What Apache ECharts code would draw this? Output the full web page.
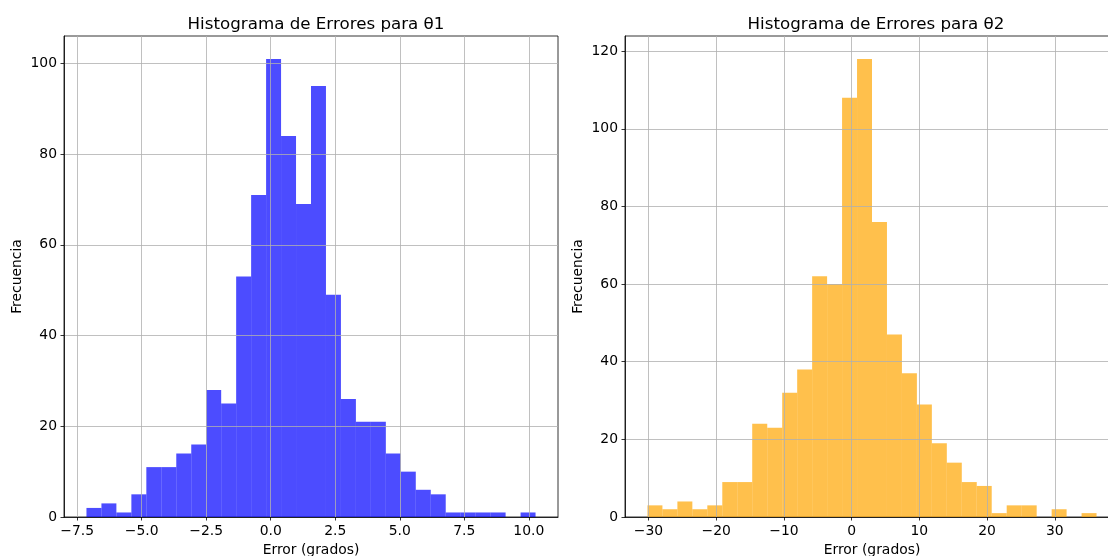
<!DOCTYPE html>
<html>
<head>
<meta charset="utf-8">
<script src="https://cdn.jsdelivr.net/npm/echarts@6/dist/echarts.min.js"></script>
<style>
  html, body { margin: 0; padding: 0; background: #fff; }
  #chart { width: 1108px; height: 556px; }
</style>
</head>
<body>
<div id="chart"></div>
<script>
// Error histograms for the two joint angles (30 equal-width bins each)
const theta1Edges = [-7.14, -6.56, -5.98, -5.40, -4.82, -4.24, -3.66, -3.08, -2.50, -1.92,
  -1.34, -0.76, -0.18, 0.40, 0.98, 1.56, 2.14, 2.72, 3.30, 3.88,
  4.46, 5.04, 5.62, 6.20, 6.78, 7.36, 7.94, 8.52, 9.10, 9.68, 10.26];
const theta1Counts = [2, 3, 1, 5, 11, 11, 14, 16, 28, 25,
  53, 71, 101, 84, 69, 95, 49, 26, 21, 21,
  14, 10, 6, 5, 1, 1, 1, 1, 0, 1];

const theta2Edges = [-30.15, -27.94, -25.73, -23.52, -21.31, -19.10, -16.89, -14.68, -12.46, -10.25,
  -8.04, -5.83, -3.62, -1.41, 0.80, 3.01, 5.22, 7.43, 9.64, 11.85,
  14.06, 16.27, 18.48, 20.69, 22.90, 25.12, 27.33, 29.54, 31.75, 33.96, 36.17];
const theta2Counts = [3, 2, 4, 2, 3, 9, 9, 24, 23, 32,
  38, 62, 60, 108, 118, 76, 47, 37, 29, 19,
  14, 9, 8, 1, 3, 3, 0, 2, 0, 1];

const theta1XTicks = [-7.5, -5.0, -2.5, 0.0, 2.5, 5.0, 7.5, 10.0];
const theta2XTicks = [-30, -20, -10, 0, 10, 20, 30];
const theta1YTicks = [0, 20, 40, 60, 80, 100];
const theta2YTicks = [0, 20, 40, 60, 80, 100, 120];

const titles = ['Histograma de Errores para θ1', 'Histograma de Errores para θ2'];
const xName = 'Error (grados)';
const yName = 'Frecuencia';

const FONT = 'DejaVu Sans';
const minus = s => String(s).replace('-', '\u2212');

// matplotlib-style autoscale: 5% margin around the data extent
function padded(lo, hi) {
  const m = (hi - lo) * 0.05;
  return [lo - m, hi + m];
}

function binData(edges, counts) {
  return counts.map((c, i) => [edges[i], edges[i + 1], c]);
}

function renderBin(color) {
  return function (params, api) {
    const top = api.coord([api.value(0), api.value(2)]);
    const bottom = api.coord([api.value(1), 0]);
    return {
      type: 'rect',
      shape: { x: top[0], y: top[1], width: bottom[0] - top[0], height: bottom[1] - top[1] },
      style: { fill: color }
    };
  };
}

const gridLine = { show: true, lineStyle: { color: '#b0b0b0', width: 0.8 } };
const tickStyle = { show: true, inside: false, length: 3.5, lineStyle: { color: '#000', width: 0.8 } };
const labelFont = { fontFamily: FONT, fontSize: 13.9, color: '#000' };

function xAxisFor(gridIndex, ext, ticks, fmt) {
  return {
    type: 'value', gridIndex, min: ext[0], max: ext[1], z: 5,
    name: xName, nameLocation: 'middle', nameGap: 25,
    nameTextStyle: labelFont,
    axisLine: { show: true, onZero: false, lineStyle: { color: '#000', width: 0.8 } },
    axisTick: Object.assign({ customValues: ticks }, tickStyle),
    axisLabel: Object.assign({ customValues: ticks, margin: 7, formatter: fmt }, labelFont),
    splitLine: gridLine
  };
}

function yAxisFor(gridIndex, max, ticks) {
  return {
    type: 'value', gridIndex, min: 0, max: max, z: 5,
    name: yName, nameLocation: 'middle', nameGap: 40,
    nameTextStyle: labelFont,
    axisLine: { show: true, onZero: false, lineStyle: { color: '#000', width: 0.8 } },
    axisTick: Object.assign({ customValues: ticks }, tickStyle),
    axisLabel: Object.assign({ customValues: ticks, margin: 7, formatter: v => minus(v) }, labelFont),
    splitLine: gridLine
  };
}

const x1 = padded(theta1Edges[0], theta1Edges[theta1Edges.length - 1]);
const x2 = padded(theta2Edges[0], theta2Edges[theta2Edges.length - 1]);
const y1 = Math.max(...theta1Counts) * 1.05;
const y2 = Math.max(...theta2Counts) * 1.05;

const gridBase = {
  top: 36, width: 494, height: 481, show: true,
  borderColor: '#000', borderWidth: 0.8, backgroundColor: 'transparent',
  containLabel: false, outerBoundsMode: 'none'
};

const chart = echarts.init(document.getElementById('chart'), null, { renderer: 'canvas' });
chart.setOption({
  backgroundColor: '#fff',
  animation: false,
  textStyle: { fontFamily: FONT },
  title: [
    { text: titles[0], left: 311, top: 11, textAlign: 'center',
      textStyle: { fontFamily: FONT, fontSize: 16.7, fontWeight: 'normal', color: '#000' } },
    { text: titles[1], left: 871, top: 11, textAlign: 'center',
      textStyle: { fontFamily: FONT, fontSize: 16.7, fontWeight: 'normal', color: '#000' } }
  ],
  grid: [
    Object.assign({ left: 64 }, gridBase),
    Object.assign({ left: 625 }, gridBase)
  ],
  xAxis: [
    xAxisFor(0, x1, theta1XTicks, v => minus(Number(v).toFixed(1))),
    xAxisFor(1, x2, theta2XTicks, v => minus(Math.round(v)))
  ],
  yAxis: [
    yAxisFor(0, y1, theta1YTicks),
    yAxisFor(1, y2, theta2YTicks)
  ],
  series: [
    { type: 'custom', xAxisIndex: 0, yAxisIndex: 0, z: 2,
      encode: { x: [0, 1], y: 2 },
      renderItem: renderBin('rgba(0,0,255,0.7)'),
      data: binData(theta1Edges, theta1Counts) },
    { type: 'custom', xAxisIndex: 1, yAxisIndex: 1, z: 2,
      encode: { x: [0, 1], y: 2 },
      renderItem: renderBin('rgba(255,165,0,0.7)'),
      data: binData(theta2Edges, theta2Counts) }
  ]
});
</script>
</body>
</html>
